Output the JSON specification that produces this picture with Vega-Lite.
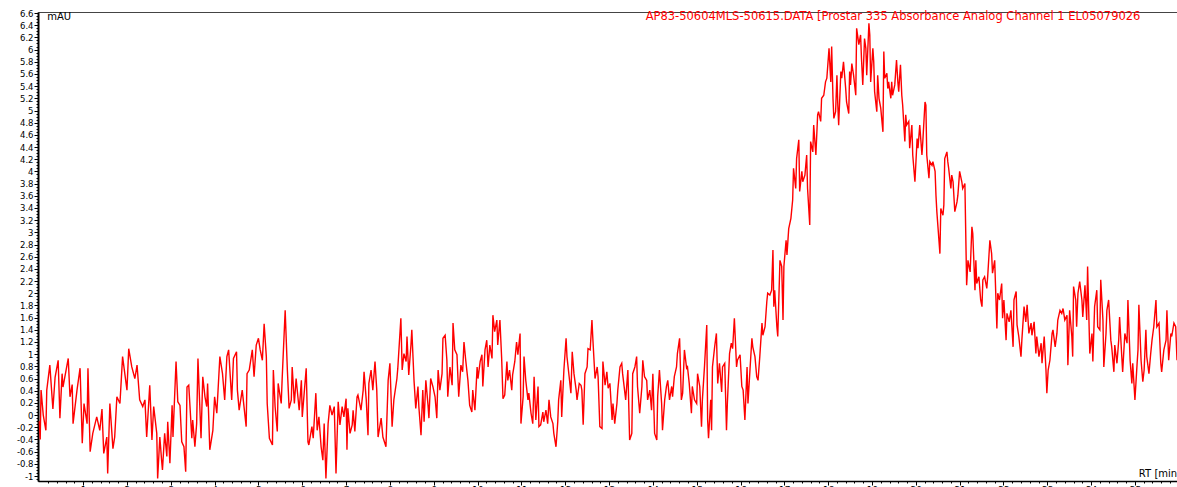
{
  "$schema": "https://vega.github.io/schema/vega-lite/v6.json",
  "width": 1139,
  "height": 469,
  "autosize": {"type": "none"},
  "padding": {"left": 38, "top": 12, "right": 0, "bottom": 6},
  "background": "white",
  "config": {"view": {"stroke": "#444444", "strokeWidth": 1}, "font": "DejaVu Sans"},
  "resolve": {"axis": {"x": "independent", "y": "independent"}},
  "layer": [
    {
      "data": {"values": [
        {"t":0.00,"v":-0.10},{"t":0.02,"v":-0.40},{"t":0.04,"v":0.41},{"t":0.09,"v":0.00},{"t":0.15,"v":-0.25},{"t":0.17,"v":0.41},{"t":0.24,"v":0.82},{"t":0.31,"v":0.10},{"t":0.36,"v":0.62},{"t":0.43,"v":0.90},{"t":0.47,"v":-0.05},{"t":0.52,"v":0.68},{"t":0.54,"v":0.46},{"t":0.66,"v":0.93},{"t":0.70,"v":0.30},{"t":0.75,"v":0.50},{"t":0.77,"v":-0.14},{"t":0.86,"v":0.41},{"t":0.93,"v":0.77},{"t":0.98,"v":-0.46},{"t":1.02,"v":0.19},{"t":1.09,"v":-0.14},{"t":1.11,"v":0.77},{"t":1.16,"v":-0.60},{"t":1.22,"v":-0.30},{"t":1.31,"v":-0.03},{"t":1.38,"v":-0.25},{"t":1.43,"v":0.10},{"t":1.47,"v":-0.63},{"t":1.54,"v":-0.36},{"t":1.56,"v":-0.96},{"t":1.61,"v":0.19},{"t":1.68,"v":-0.55},{"t":1.72,"v":-0.36},{"t":1.77,"v":0.30},{"t":1.84,"v":0.19},{"t":1.90,"v":0.96},{"t":2.00,"v":0.41},{"t":2.04,"v":1.09},{"t":2.11,"v":0.79},{"t":2.18,"v":0.60},{"t":2.23,"v":0.82},{"t":2.29,"v":0.25},{"t":2.36,"v":0.14},{"t":2.41,"v":0.25},{"t":2.45,"v":-0.36},{"t":2.52,"v":0.49},{"t":2.57,"v":-0.41},{"t":2.61,"v":0.14},{"t":2.68,"v":-0.30},{"t":2.70,"v":-1.04},{"t":2.75,"v":-0.36},{"t":2.79,"v":-0.74},{"t":2.81,"v":-0.90},{"t":2.86,"v":-0.30},{"t":2.91,"v":-0.68},{"t":2.93,"v":-0.11},{"t":2.98,"v":-0.79},{"t":3.03,"v":0.16},{"t":3.05,"v":-0.36},{"t":3.12,"v":0.88},{"t":3.16,"v":0.22},{"t":3.21,"v":0.16},{"t":3.25,"v":-0.44},{"t":3.30,"v":-0.52},{"t":3.34,"v":-0.93},{"t":3.37,"v":0.46},{"t":3.41,"v":0.49},{"t":3.48,"v":-0.38},{"t":3.50,"v":-0.08},{"t":3.55,"v":-0.52},{"t":3.59,"v":-0.14},{"t":3.62,"v":0.93},{"t":3.69,"v":-0.38},{"t":3.73,"v":0.63},{"t":3.78,"v":0.30},{"t":3.82,"v":0.14},{"t":3.84,"v":0.52},{"t":3.89,"v":-0.57},{"t":3.96,"v":-0.25},{"t":4.00,"v":0.30},{"t":4.05,"v":0.03},{"t":4.12,"v":0.96},{"t":4.18,"v":0.68},{"t":4.23,"v":0.25},{"t":4.28,"v":0.96},{"t":4.32,"v":1.07},{"t":4.39,"v":0.25},{"t":4.43,"v":0.93},{"t":4.50,"v":1.04},{"t":4.52,"v":0.41},{"t":4.56,"v":0.08},{"t":4.63,"v":0.41},{"t":4.72,"v":-0.19},{"t":4.74,"v":0.68},{"t":4.79,"v":0.74},{"t":4.86,"v":1.07},{"t":4.90,"v":0.63},{"t":4.95,"v":1.15},{"t":5.00,"v":1.26},{"t":5.04,"v":1.07},{"t":5.09,"v":0.90},{"t":5.13,"v":1.50},{"t":5.18,"v":0.96},{"t":5.20,"v":0.19},{"t":5.25,"v":-0.38},{"t":5.32,"v":-0.49},{"t":5.34,"v":0.74},{"t":5.38,"v":0.14},{"t":5.43,"v":-0.27},{"t":5.45,"v":0.52},{"t":5.52,"v":0.19},{"t":5.54,"v":0.57},{"t":5.61,"v":1.72},{"t":5.66,"v":0.74},{"t":5.70,"v":0.11},{"t":5.75,"v":0.25},{"t":5.77,"v":0.79},{"t":5.82,"v":0.19},{"t":5.86,"v":0.60},{"t":5.93,"v":0.08},{"t":5.98,"v":0.57},{"t":6.00,"v":-0.03},{"t":6.09,"v":0.77},{"t":6.13,"v":-0.44},{"t":6.15,"v":-0.49},{"t":6.22,"v":-0.19},{"t":6.25,"v":-0.38},{"t":6.31,"v":0.36},{"t":6.34,"v":-0.25},{"t":6.38,"v":-0.03},{"t":6.43,"v":-0.52},{"t":6.47,"v":-0.74},{"t":6.50,"v":-0.14},{"t":6.54,"v":-1.04},{"t":6.59,"v":-0.14},{"t":6.63,"v":0.16},
        {"t":6.68,"v":0.00},{"t":6.73,"v":0.14},{"t":6.77,"v":-0.96},{"t":6.82,"v":0.22},{"t":6.86,"v":-0.16},{"t":6.91,"v":0.14},{"t":6.95,"v":-0.03},{"t":7.00,"v":0.27},{"t":7.02,"v":-0.57},{"t":7.04,"v":0.11},{"t":7.09,"v":-0.30},{"t":7.14,"v":-0.16},{"t":7.16,"v":0.08},{"t":7.20,"v":-0.27},{"t":7.25,"v":0.30},{"t":7.27,"v":0.33},{"t":7.34,"v":0.08},{"t":7.39,"v":0.41},{"t":7.41,"v":0.71},{"t":7.46,"v":0.25},{"t":7.50,"v":-0.33},{"t":7.52,"v":0.52},{"t":7.57,"v":0.74},{"t":7.61,"v":0.41},{"t":7.66,"v":0.88},{"t":7.70,"v":0.41},{"t":7.73,"v":-0.36},{"t":7.80,"v":-0.05},{"t":7.84,"v":-0.36},{"t":7.91,"v":-0.52},{"t":7.96,"v":0.57},{"t":8.00,"v":0.85},{"t":8.05,"v":-0.19},{"t":8.09,"v":0.25},{"t":8.16,"v":0.60},{"t":8.18,"v":0.77},{"t":8.25,"v":1.59},{"t":8.28,"v":0.74},{"t":8.32,"v":1.01},{"t":8.37,"v":0.88},{"t":8.39,"v":1.29},{"t":8.43,"v":0.66},{"t":8.48,"v":1.15},{"t":8.50,"v":1.40},{"t":8.55,"v":0.57},{"t":8.59,"v":0.11},{"t":8.64,"v":0.47},{"t":8.66,"v":0.14},{"t":8.71,"v":-0.33},{"t":8.75,"v":0.41},{"t":8.78,"v":-0.11},{"t":8.82,"v":0.57},{"t":8.87,"v":0.16},{"t":8.89,"v":-0.05},{"t":8.93,"v":0.60},{"t":8.98,"v":0.47},{"t":9.03,"v":0.30},{"t":9.07,"v":-0.05},{"t":9.10,"v":0.74},{"t":9.14,"v":0.41},{"t":9.19,"v":0.68},{"t":9.21,"v":1.26},{"t":9.26,"v":1.31},{"t":9.30,"v":0.90},{"t":9.32,"v":0.30},{"t":9.37,"v":0.79},{"t":9.42,"v":0.49},{"t":9.44,"v":1.51},{"t":9.48,"v":1.07},{"t":9.53,"v":0.99},{"t":9.57,"v":0.30},{"t":9.62,"v":0.82},{"t":9.66,"v":0.71},{"t":9.69,"v":1.20},{"t":9.73,"v":0.90},{"t":9.78,"v":0.57},{"t":9.82,"v":0.16},{"t":9.87,"v":0.05},{"t":9.89,"v":0.41},{"t":9.94,"v":0.08},{"t":9.99,"v":0.79},{"t":10.01,"v":0.60},{"t":10.06,"v":0.88},{"t":10.10,"v":0.99},{"t":10.12,"v":0.47},{"t":10.17,"v":1.07},{"t":10.21,"v":1.23},{"t":10.24,"v":0.79},{"t":10.28,"v":1.15},{"t":10.33,"v":0.93},{"t":10.35,"v":1.64},{"t":10.39,"v":1.37},{"t":10.44,"v":1.56},{"t":10.46,"v":1.15},{"t":10.51,"v":1.56},{"t":10.55,"v":0.93},{"t":10.58,"v":0.27},{"t":10.62,"v":0.33},{"t":10.67,"v":0.88},{"t":10.69,"v":0.57},{"t":10.73,"v":0.74},{"t":10.78,"v":0.41},{"t":10.80,"v":0.66},{"t":10.85,"v":0.88},{"t":10.89,"v":1.20},{"t":10.92,"v":0.99},{"t":10.97,"v":1.34},{"t":10.99,"v":-0.14},{"t":11.04,"v":0.30},{"t":11.06,"v":0.96},{"t":11.10,"v":0.57},{"t":11.15,"v":0.25},{"t":11.17,"v":0.36},{"t":11.22,"v":0.03},{"t":11.26,"v":-0.14},{"t":11.29,"v":0.63},{"t":11.33,"v":-0.08},{"t":11.38,"v":0.47},{"t":11.40,"v":-0.19},{"t":11.44,"v":-0.16},{"t":11.49,"v":0.05},{"t":11.51,"v":-0.11},{"t":11.56,"v":0.08},{"t":11.60,"v":-0.14},{"t":11.63,"v":0.25},{"t":11.67,"v":-0.03},{"t":11.72,"v":-0.14},{"t":11.74,"v":-0.30},{"t":11.79,"v":-0.52},{"t":11.83,"v":-0.11},{"t":11.85,"v":0.25},{"t":11.90,"v":0.57},{"t":11.92,"v":-0.03},{"t":11.97,"v":0.74},{"t":12.02,"v":1.26},{"t":12.04,"v":0.96},{"t":12.09,"v":0.63},{"t":12.13,"v":0.36},{"t":12.16,"v":1.04},{"t":12.20,"v":0.68},{"t":12.25,"v":0.41},{"t":12.27,"v":0.25},{"t":12.32,"v":0.52},{"t":12.36,"v":0.49},{"t":12.38,"v":0.41},{"t":12.41,"v":-0.16},{"t":12.45,"v":0.68},{"t":12.50,"v":0.79},{"t":12.52,"v":1.09},{"t":12.57,"v":1.07},{"t":12.61,"v":1.56},{"t":12.63,"v":1.26},{"t":12.68,"v":0.60},{"t":12.73,"v":0.79},{"t":12.75,"v":0.63},{"t":12.79,"v":-0.19},{"t":12.84,"v":-0.22},{"t":12.86,"v":0.88},{"t":12.91,"v":0.49},{"t":12.95,"v":0.71},{"t":12.98,"v":0.44},{"t":13.02,"v":0.52},
        {"t":13.07,"v":-0.08},{"t":13.09,"v":0.19},{"t":13.13,"v":-0.14},{"t":13.18,"v":0.19},{"t":13.20,"v":0.41},{"t":13.25,"v":0.79},{"t":13.29,"v":0.85},{"t":13.31,"v":0.68},{"t":13.38,"v":0.25},{"t":13.43,"v":0.74},{"t":13.47,"v":-0.41},{"t":13.52,"v":-0.30},{"t":13.54,"v":0.68},{"t":13.59,"v":0.79},{"t":13.63,"v":0.96},{"t":13.65,"v":0.47},{"t":13.70,"v":0.03},{"t":13.75,"v":0.47},{"t":13.77,"v":0.90},{"t":13.81,"v":0.63},{"t":13.86,"v":0.57},{"t":13.88,"v":0.25},{"t":13.93,"v":0.41},{"t":13.97,"v":0.08},{"t":14.00,"v":0.68},{"t":14.04,"v":-0.30},{"t":14.09,"v":-0.41},{"t":14.11,"v":0.30},{"t":14.15,"v":0.74},{"t":14.20,"v":0.19},{"t":14.22,"v":-0.25},{"t":14.27,"v":0.25},{"t":14.31,"v":0.47},{"t":14.34,"v":0.57},{"t":14.38,"v":0.25},{"t":14.43,"v":0.47},{"t":14.45,"v":0.30},{"t":14.49,"v":0.63},{"t":14.54,"v":0.79},{"t":14.56,"v":1.01},{"t":14.61,"v":1.26},{"t":14.65,"v":0.25},{"t":14.68,"v":0.36},{"t":14.72,"v":1.07},{"t":14.77,"v":0.77},{"t":14.79,"v":0.79},{"t":14.83,"v":0.52},{"t":14.88,"v":0.03},{"t":14.90,"v":0.47},{"t":14.95,"v":0.25},{"t":15.00,"v":0.19},{"t":15.02,"v":0.68},{"t":15.07,"v":0.47},{"t":15.11,"v":-0.19},{"t":15.13,"v":0.25},{"t":15.18,"v":0.82},{"t":15.23,"v":1.48},{"t":15.25,"v":-0.08},{"t":15.27,"v":-0.38},{"t":15.32,"v":0.25},{"t":15.34,"v":-0.25},{"t":15.36,"v":0.79},{"t":15.41,"v":1.12},{"t":15.45,"v":1.34},{"t":15.48,"v":0.52},{"t":15.52,"v":0.85},{"t":15.57,"v":0.38},{"t":15.59,"v":0.79},{"t":15.64,"v":0.85},{"t":15.68,"v":-0.25},{"t":15.70,"v":0.19},{"t":15.75,"v":1.01},{"t":15.79,"v":1.18},{"t":15.82,"v":1.09},{"t":15.86,"v":1.59},{"t":15.91,"v":0.79},{"t":15.93,"v":0.90},{"t":15.99,"v":0.99},{"t":16.03,"v":0.47},{"t":16.06,"v":0.41},{"t":16.10,"v":-0.08},{"t":16.15,"v":0.79},{"t":16.17,"v":0.19},{"t":16.22,"v":0.79},{"t":16.26,"v":1.26},{"t":16.28,"v":1.12},{"t":16.33,"v":0.96},{"t":16.37,"v":0.63},{"t":16.40,"v":0.57},{"t":16.44,"v":0.96},{"t":16.49,"v":1.51},{"t":16.51,"v":1.31},{"t":16.56,"v":1.45},{"t":16.60,"v":1.86},{"t":16.62,"v":2.00},{"t":16.67,"v":1.97},{"t":16.71,"v":2.05},{"t":16.74,"v":2.71},{"t":16.76,"v":1.78},{"t":16.78,"v":2.05},{"t":16.83,"v":1.45},{"t":16.85,"v":1.29},{"t":16.90,"v":2.54},{"t":16.94,"v":2.44},{"t":16.97,"v":1.56},{"t":16.99,"v":2.44},{"t":17.04,"v":2.87},{"t":17.06,"v":2.63},{"t":17.10,"v":3.06},{"t":17.15,"v":3.23},{"t":17.19,"v":3.53},
        {"t":17.21,"v":4.05},{"t":17.26,"v":3.72},{"t":17.28,"v":4.21},{"t":17.33,"v":4.52},{"t":17.35,"v":3.67},{"t":17.40,"v":4.00},{"t":17.42,"v":3.83},{"t":17.47,"v":3.94},{"t":17.51,"v":4.27},{"t":17.53,"v":3.72},{"t":17.58,"v":3.12},{"t":17.60,"v":4.49},{"t":17.65,"v":4.32},{"t":17.67,"v":4.76},{"t":17.72,"v":4.27},{"t":17.76,"v":4.93},{"t":17.78,"v":4.98},{"t":17.83,"v":4.82},{"t":17.85,"v":5.20},{"t":17.90,"v":5.25},{"t":17.94,"v":5.47},{"t":17.97,"v":5.53},{"t":18.02,"v":6.02},{"t":18.06,"v":5.47},{"t":18.08,"v":6.05},{"t":18.11,"v":5.20},{"t":18.13,"v":4.87},{"t":18.17,"v":4.98},{"t":18.20,"v":5.58},{"t":18.22,"v":5.09},{"t":18.24,"v":4.76},{"t":18.29,"v":5.64},{"t":18.31,"v":5.53},{"t":18.35,"v":5.80},{"t":18.40,"v":5.36},{"t":18.42,"v":5.14},{"t":18.47,"v":4.95},{"t":18.49,"v":5.64},{"t":18.51,"v":5.42},{"t":18.54,"v":5.77},{"t":18.58,"v":5.58},{"t":18.63,"v":5.25},{"t":18.65,"v":6.35},{"t":18.70,"v":6.08},{"t":18.74,"v":6.24},{"t":18.76,"v":5.86},{"t":18.79,"v":5.42},{"t":18.83,"v":6.18},{"t":18.86,"v":6.02},{"t":18.88,"v":5.58},{"t":18.93,"v":6.43},{"t":18.95,"v":6.24},{"t":18.97,"v":5.47},{"t":19.02,"v":6.02},{"t":19.04,"v":5.80},{"t":19.06,"v":5.31},{"t":19.11,"v":4.98},{"t":19.13,"v":5.58},{"t":19.16,"v":5.20},{"t":19.20,"v":5.04},{"t":19.25,"v":4.65},{"t":19.27,"v":5.97},{"t":19.29,"v":5.53},{"t":19.34,"v":5.61},{"t":19.36,"v":5.36},{"t":19.38,"v":5.47},{"t":19.43,"v":5.20},{"t":19.45,"v":5.47},{"t":19.47,"v":5.25},{"t":19.52,"v":5.42},{"t":19.56,"v":5.83},{"t":19.59,"v":5.47},{"t":19.61,"v":5.31},{"t":19.65,"v":5.75},{"t":19.68,"v":5.25},{"t":19.70,"v":5.09},{"t":19.75,"v":4.49},{"t":19.77,"v":4.93},{"t":19.79,"v":4.76},{"t":19.84,"v":4.82},{"t":19.86,"v":4.38},{"t":19.91,"v":4.76},{"t":19.93,"v":4.27},{"t":19.98,"v":3.83},{"t":20.03,"v":4.54},{"t":20.05,"v":4.38},{"t":20.09,"v":4.76},{"t":20.14,"v":4.27},{"t":20.16,"v":4.49},{"t":20.21,"v":5.14},{"t":20.23,"v":5.09},{"t":20.25,"v":4.27},{"t":20.30,"v":3.89},{"t":20.32,"v":4.16},{"t":20.37,"v":4.10},{"t":20.39,"v":4.16},{"t":20.44,"v":4.00},{"t":20.46,"v":3.61},{"t":20.48,"v":3.34},{"t":20.53,"v":2.85},{"t":20.55,"v":2.65},{"t":20.57,"v":3.39},{"t":20.62,"v":3.28},{"t":20.64,"v":3.45},{"t":20.66,"v":4.21},{"t":20.71,"v":4.32},{"t":20.73,"v":4.16},{"t":20.75,"v":4.05},{"t":20.80,"v":3.72},{"t":20.82,"v":3.94},{"t":20.85,"v":3.83},{"t":20.89,"v":3.34},{"t":20.94,"v":3.50},{"t":20.96,"v":3.61},{"t":21.00,"v":4.00},{"t":21.05,"v":3.83},{"t":21.07,"v":3.72},{"t":21.12,"v":3.80},{"t":21.16,"v":2.13},
        {"t":21.19,"v":2.54},{"t":21.24,"v":2.35},{"t":21.28,"v":3.09},{"t":21.30,"v":2.98},{"t":21.35,"v":2.05},{"t":21.37,"v":2.54},{"t":21.39,"v":2.16},{"t":21.44,"v":2.27},{"t":21.48,"v":1.89},{"t":21.51,"v":1.78},{"t":21.53,"v":2.22},{"t":21.57,"v":2.27},{"t":21.62,"v":2.08},{"t":21.64,"v":2.27},{"t":21.69,"v":2.87},{"t":21.73,"v":2.65},{"t":21.75,"v":2.33},{"t":21.80,"v":2.54},{"t":21.85,"v":1.42},{"t":21.87,"v":2.00},{"t":21.91,"v":1.89},{"t":21.96,"v":2.16},{"t":21.98,"v":1.59},{"t":22.01,"v":1.89},{"t":22.06,"v":1.23},{"t":22.08,"v":1.67},{"t":22.13,"v":1.53},{"t":22.17,"v":1.72},{"t":22.22,"v":1.12},{"t":22.24,"v":1.89},{"t":22.29,"v":2.03},{"t":22.31,"v":1.48},{"t":22.35,"v":1.29},{"t":22.40,"v":0.96},{"t":22.42,"v":1.23},{"t":22.47,"v":1.78},{"t":22.51,"v":1.53},{"t":22.54,"v":1.81},{"t":22.58,"v":1.34},{"t":22.63,"v":1.51},{"t":22.65,"v":1.31},{"t":22.70,"v":1.53},{"t":22.74,"v":1.01},{"t":22.76,"v":1.29},{"t":22.81,"v":0.96},{"t":22.86,"v":1.18},{"t":22.88,"v":0.85},{"t":22.93,"v":1.29},{"t":22.97,"v":0.74},{"t":22.99,"v":0.36},{"t":23.02,"v":0.74},{"t":23.06,"v":0.90},{"t":23.11,"v":1.34},{"t":23.13,"v":1.40},{"t":23.18,"v":1.12},{"t":23.22,"v":1.34},{"t":23.24,"v":1.56},{"t":23.29,"v":1.72},{"t":23.33,"v":1.67},{"t":23.36,"v":1.75},{"t":23.40,"v":1.56},{"t":23.45,"v":1.64},{"t":23.47,"v":0.82},{"t":23.51,"v":1.72},{"t":23.56,"v":1.29},{"t":23.58,"v":0.96},{"t":23.60,"v":2.11},{"t":23.65,"v":1.89},{"t":23.67,"v":1.45},{"t":23.70,"v":2.00},{"t":23.74,"v":2.19},{"t":23.79,"v":1.89},{"t":23.81,"v":1.61},{"t":23.86,"v":2.13},{"t":23.90,"v":1.56},{"t":23.92,"v":2.44},{"t":23.97,"v":1.01},{"t":24.02,"v":1.34},{"t":24.04,"v":0.88},{"t":24.08,"v":1.78},{"t":24.13,"v":2.05},{"t":24.15,"v":1.45},{"t":24.20,"v":1.40},{"t":24.22,"v":2.22},{"t":24.27,"v":1.56},{"t":24.29,"v":0.79},{"t":24.34,"v":1.34},{"t":24.36,"v":1.72},{"t":24.40,"v":1.89},{"t":24.45,"v":1.23},{"t":24.47,"v":1.12},{"t":24.52,"v":0.71},{"t":24.54,"v":1.15},{"t":24.59,"v":0.85},{"t":24.63,"v":1.23},{"t":24.65,"v":1.61},{"t":24.70,"v":0.96},{"t":24.72,"v":0.71},{"t":24.77,"v":1.34},{"t":24.82,"v":1.18},{"t":24.84,"v":1.89},{"t":24.89,"v":0.90},{"t":24.93,"v":0.52},{"t":24.95,"v":0.85},{"t":25.00,"v":0.25},{"t":25.05,"v":0.85},{"t":25.07,"v":1.07},{"t":25.09,"v":1.81},{"t":25.14,"v":0.90},{"t":25.18,"v":0.55},{"t":25.21,"v":0.74},{"t":25.25,"v":1.40},{"t":25.27,"v":0.96},{"t":25.32,"v":0.68},{"t":25.36,"v":1.01},{"t":25.39,"v":1.23},{"t":25.43,"v":1.45},{"t":25.48,"v":1.89},{"t":25.50,"v":1.45},{"t":25.55,"v":1.51},{"t":25.59,"v":0.85},{"t":25.61,"v":0.71},{"t":25.66,"v":1.07},{"t":25.71,"v":1.23},{"t":25.73,"v":1.72},{"t":25.77,"v":0.90},{"t":25.82,"v":1.34},{"t":25.84,"v":1.29},{"t":25.89,"v":1.51},{"t":25.93,"v":1.45},{"t":25.96,"v":0.90}
      ]},
      "mark": {"type": "line", "color": "#ff0000", "strokeWidth": 1.4, "clip": true},
      "encoding": {
        "x": {
          "field": "t", "type": "quantitative",
          "scale": {"domain": [-0.03, 25.96], "nice": false, "zero": false},
          "axis": {
            "title": null, "grid": false, "orient": "bottom",
            "values": [1,2,3,4,5,6,7,8,9,10,11,12,13,14,15,16,17,18,19,20,21,22,23,24,25],
            "labelOverlap": false, "labelBound": false, "labelFlush": false,
            "labelFont": "DejaVu Sans", "labelFontSize": 9, "labelColor": "black",
            "labelPadding": 0,
            "domainColor": "black", "domainWidth": 1.5,
            "tickColor": "black", "tickWidth": 1, "tickSize": 4
          }
        },
        "y": {
          "field": "v", "type": "quantitative",
          "scale": {"domain": [-1.082, 6.617], "nice": false, "zero": false},
          "axis": {
            "title": null, "grid": false, "orient": "left",
            "values": [-1,-0.8,-0.6,-0.4,-0.2,0,0.2,0.4,0.6,0.8,1,1.2,1.4,1.6,1.8,2,2.2,2.4,2.6,2.8,3,3.2,3.4,3.6,3.8,4,4.2,4.4,4.6,4.8,5,5.2,5.4,5.6,5.8,6,6.2,6.4,6.6],
            "labelExpr": "'' + datum.value",
            "labelOverlap": false, "labelBound": false, "labelFlush": false,
            "labelFont": "DejaVu Sans", "labelFontSize": 8.5, "labelColor": "black",
            "labelPadding": 1,
            "domainColor": "black", "domainWidth": 2,
            "tickColor": "black", "tickWidth": 1, "tickSize": 4
          }
        }
      }
    },
    {
      "data": {"values": [{}]},
      "mark": {"type": "text", "text": "mAU", "align": "left", "baseline": "middle", "font": "DejaVu Sans", "fontSize": 10, "color": "black"},
      "encoding": {
        "x": {"datum": 0.18, "type": "quantitative", "axis": {
          "orient": "bottom", "title": null, "grid": false, "labels": false, "domain": false,
          "values": [0.2,0.4,0.6,0.8,1.2,1.4,1.6,1.8,2.2,2.4,2.6,2.8,3.2,3.4,3.6,3.8,4.2,4.4,4.6,4.8,5.2,5.4,5.6,5.8,6.2,6.4,6.6,6.8,7.2,7.4,7.6,7.8,8.2,8.4,8.6,8.8,9.2,9.4,9.6,9.8,10.2,10.4,10.6,10.8,11.2,11.4,11.6,11.8,12.2,12.4,12.6,12.8,13.2,13.4,13.6,13.8,14.2,14.4,14.6,14.8,15.2,15.4,15.6,15.8,16.2,16.4,16.6,16.8,17.2,17.4,17.6,17.8,18.2,18.4,18.6,18.8,19.2,19.4,19.6,19.8,20.2,20.4,20.6,20.8,21.2,21.4,21.6,21.8,22.2,22.4,22.6,22.8,23.2,23.4,23.6,23.8,24.2,24.4,24.6,24.8,25.2,25.4,25.6,25.8],
          "tickColor": "black", "tickWidth": 1, "tickSize": 2}},
        "y": {"datum": 6.535, "type": "quantitative", "axis": {
          "orient": "left", "title": null, "grid": false, "labels": false, "domain": false,
          "values": [-1.05,-0.95,-0.9,-0.85,-0.75,-0.7,-0.65,-0.55,-0.5,-0.45,-0.35,-0.3,-0.25,-0.15,-0.1,-0.05,0.05,0.1,0.15,0.25,0.3,0.35,0.45,0.5,0.55,0.65,0.7,0.75,0.85,0.9,0.95,1.05,1.1,1.15,1.25,1.3,1.35,1.45,1.5,1.55,1.65,1.7,1.75,1.85,1.9,1.95,2.05,2.1,2.15,2.25,2.3,2.35,2.45,2.5,2.55,2.65,2.7,2.75,2.85,2.9,2.95,3.05,3.1,3.15,3.25,3.3,3.35,3.45,3.5,3.55,3.65,3.7,3.75,3.85,3.9,3.95,4.05,4.1,4.15,4.25,4.3,4.35,4.45,4.5,4.55,4.65,4.7,4.75,4.85,4.9,4.95,5.05,5.1,5.15,5.25,5.3,5.35,5.45,5.5,5.55,5.65,5.7,5.75,5.85,5.9,5.95,6.05,6.1,6.15,6.25,6.3,6.35,6.45,6.5,6.55],
          "tickColor": "black", "tickWidth": 1, "tickSize": 2}}
      }
    },
    {
      "data": {"values": [{}]},
      "mark": {"type": "text", "text": "AP83-50604MLS-50615.DATA [Prostar 335 Absorbance Analog Channel 1 EL05079026", "align": "center", "baseline": "middle", "font": "DejaVu Sans", "fontSize": 11.5, "color": "#ff0000"},
      "encoding": {"x": {"datum": 19.48, "type": "quantitative", "axis": null}, "y": {"datum": 6.535, "type": "quantitative", "axis": null}}
    },
    {
      "data": {"values": [{}]},
      "mark": {"type": "text", "text": "RT [min]", "align": "left", "baseline": "middle", "font": "DejaVu Sans", "fontSize": 10, "color": "black"},
      "encoding": {"x": {"datum": 25.09, "type": "quantitative", "axis": null}, "y": {"datum": -0.967, "type": "quantitative", "axis": null}}
    }
  ]
}
